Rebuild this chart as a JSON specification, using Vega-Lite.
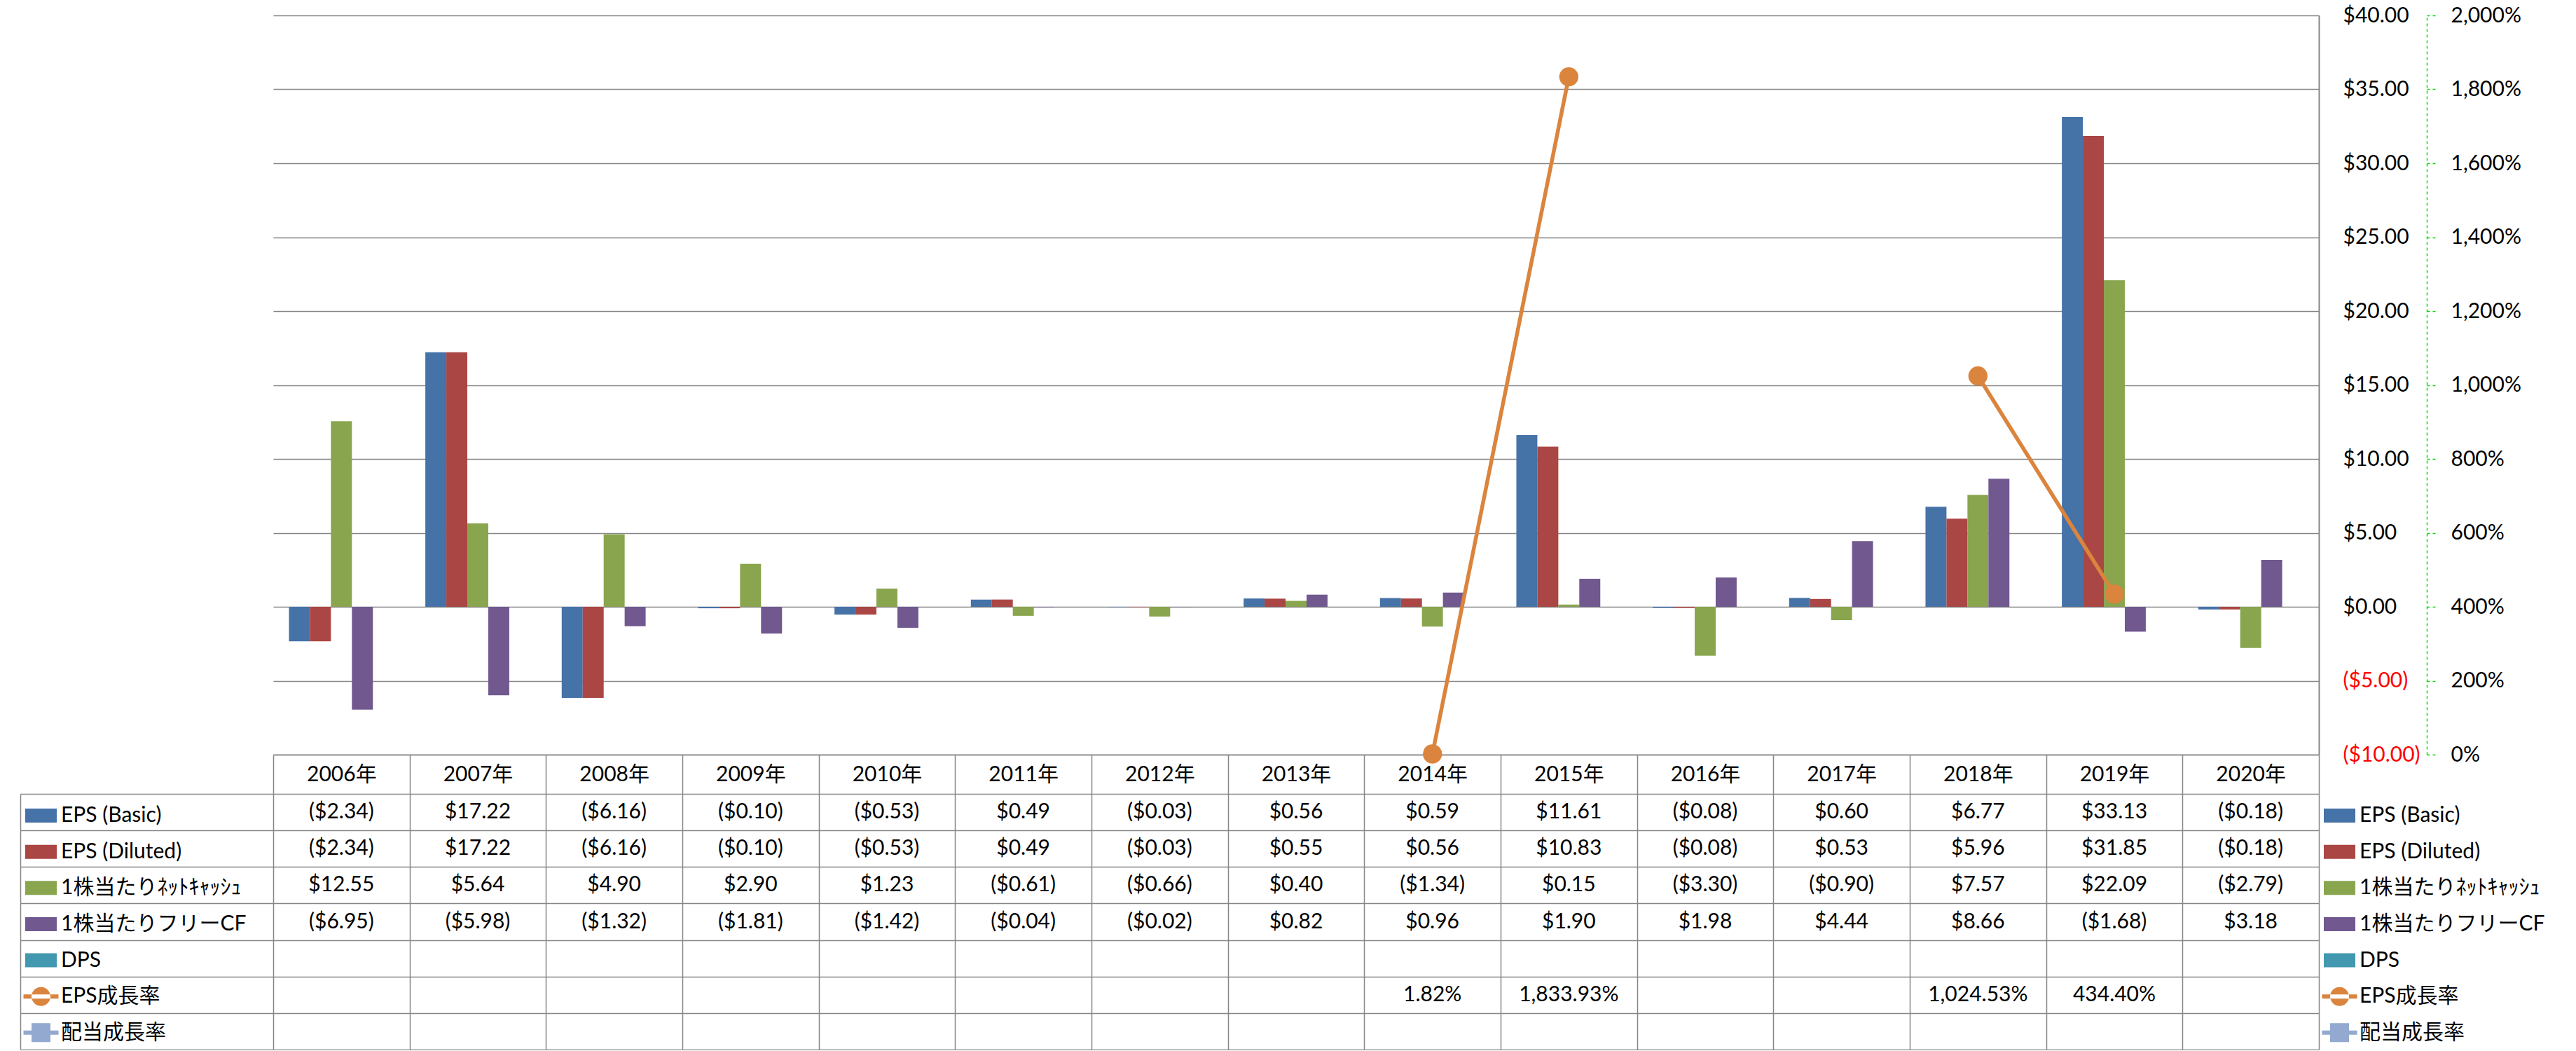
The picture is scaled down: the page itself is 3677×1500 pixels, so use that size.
{
  "$schema": "https://vega.github.io/schema/vega-lite/v6.json",
  "background": "white",
  "padding": {"left": 28, "top": 7, "right": 0, "bottom": 0},
  "bounds": "flush",
  "spacing": 56,
  "datasets": {
    "d": [
      {"year": "2006年", "series": "EPS (Basic)", "value": -2.34},
      {"year": "2007年", "series": "EPS (Basic)", "value": 17.22},
      {"year": "2008年", "series": "EPS (Basic)", "value": -6.16},
      {"year": "2009年", "series": "EPS (Basic)", "value": -0.10},
      {"year": "2010年", "series": "EPS (Basic)", "value": -0.53},
      {"year": "2011年", "series": "EPS (Basic)", "value": 0.49},
      {"year": "2012年", "series": "EPS (Basic)", "value": -0.03},
      {"year": "2013年", "series": "EPS (Basic)", "value": 0.56},
      {"year": "2014年", "series": "EPS (Basic)", "value": 0.59},
      {"year": "2015年", "series": "EPS (Basic)", "value": 11.61},
      {"year": "2016年", "series": "EPS (Basic)", "value": -0.08},
      {"year": "2017年", "series": "EPS (Basic)", "value": 0.60},
      {"year": "2018年", "series": "EPS (Basic)", "value": 6.77},
      {"year": "2019年", "series": "EPS (Basic)", "value": 33.13},
      {"year": "2020年", "series": "EPS (Basic)", "value": -0.18},
      {"year": "2006年", "series": "EPS (Diluted)", "value": -2.34},
      {"year": "2007年", "series": "EPS (Diluted)", "value": 17.22},
      {"year": "2008年", "series": "EPS (Diluted)", "value": -6.16},
      {"year": "2009年", "series": "EPS (Diluted)", "value": -0.10},
      {"year": "2010年", "series": "EPS (Diluted)", "value": -0.53},
      {"year": "2011年", "series": "EPS (Diluted)", "value": 0.49},
      {"year": "2012年", "series": "EPS (Diluted)", "value": -0.03},
      {"year": "2013年", "series": "EPS (Diluted)", "value": 0.55},
      {"year": "2014年", "series": "EPS (Diluted)", "value": 0.56},
      {"year": "2015年", "series": "EPS (Diluted)", "value": 10.83},
      {"year": "2016年", "series": "EPS (Diluted)", "value": -0.08},
      {"year": "2017年", "series": "EPS (Diluted)", "value": 0.53},
      {"year": "2018年", "series": "EPS (Diluted)", "value": 5.96},
      {"year": "2019年", "series": "EPS (Diluted)", "value": 31.85},
      {"year": "2020年", "series": "EPS (Diluted)", "value": -0.18},
      {"year": "2006年", "series": "1株当たりﾈｯﾄｷｬｯｼｭ", "value": 12.55},
      {"year": "2007年", "series": "1株当たりﾈｯﾄｷｬｯｼｭ", "value": 5.64},
      {"year": "2008年", "series": "1株当たりﾈｯﾄｷｬｯｼｭ", "value": 4.90},
      {"year": "2009年", "series": "1株当たりﾈｯﾄｷｬｯｼｭ", "value": 2.90},
      {"year": "2010年", "series": "1株当たりﾈｯﾄｷｬｯｼｭ", "value": 1.23},
      {"year": "2011年", "series": "1株当たりﾈｯﾄｷｬｯｼｭ", "value": -0.61},
      {"year": "2012年", "series": "1株当たりﾈｯﾄｷｬｯｼｭ", "value": -0.66},
      {"year": "2013年", "series": "1株当たりﾈｯﾄｷｬｯｼｭ", "value": 0.40},
      {"year": "2014年", "series": "1株当たりﾈｯﾄｷｬｯｼｭ", "value": -1.34},
      {"year": "2015年", "series": "1株当たりﾈｯﾄｷｬｯｼｭ", "value": 0.15},
      {"year": "2016年", "series": "1株当たりﾈｯﾄｷｬｯｼｭ", "value": -3.30},
      {"year": "2017年", "series": "1株当たりﾈｯﾄｷｬｯｼｭ", "value": -0.90},
      {"year": "2018年", "series": "1株当たりﾈｯﾄｷｬｯｼｭ", "value": 7.57},
      {"year": "2019年", "series": "1株当たりﾈｯﾄｷｬｯｼｭ", "value": 22.09},
      {"year": "2020年", "series": "1株当たりﾈｯﾄｷｬｯｼｭ", "value": -2.79},
      {"year": "2006年", "series": "1株当たりフリーCF", "value": -6.95},
      {"year": "2007年", "series": "1株当たりフリーCF", "value": -5.98},
      {"year": "2008年", "series": "1株当たりフリーCF", "value": -1.32},
      {"year": "2009年", "series": "1株当たりフリーCF", "value": -1.81},
      {"year": "2010年", "series": "1株当たりフリーCF", "value": -1.42},
      {"year": "2011年", "series": "1株当たりフリーCF", "value": -0.04},
      {"year": "2012年", "series": "1株当たりフリーCF", "value": -0.02},
      {"year": "2013年", "series": "1株当たりフリーCF", "value": 0.82},
      {"year": "2014年", "series": "1株当たりフリーCF", "value": 0.96},
      {"year": "2015年", "series": "1株当たりフリーCF", "value": 1.90},
      {"year": "2016年", "series": "1株当たりフリーCF", "value": 1.98},
      {"year": "2017年", "series": "1株当たりフリーCF", "value": 4.44},
      {"year": "2018年", "series": "1株当たりフリーCF", "value": 8.66},
      {"year": "2019年", "series": "1株当たりフリーCF", "value": -1.68},
      {"year": "2020年", "series": "1株当たりフリーCF", "value": 3.18},
      {"year": "2014年", "series": "EPS成長率", "value": 0.0182},
      {"year": "2015年", "series": "EPS成長率", "value": 18.3393},
      {"year": "2016年", "series": "EPS成長率", "value": null},
      {"year": "2017年", "series": "EPS成長率", "value": null},
      {"year": "2018年", "series": "EPS成長率", "value": 10.2453},
      {"year": "2019年", "series": "EPS成長率", "value": 4.344}
    ]
  },
  "vconcat": [
    {
      "width": 2920,
      "height": 1055,
      "data": {"name": "d"},
      "layer": [
        {
          "transform": [{"filter": {"field": "series", "oneOf": ["EPS (Basic)", "EPS (Diluted)", "1株当たりﾈｯﾄｷｬｯｼｭ", "1株当たりフリーCF"]}}],
          "mark": {"type": "bar"},
          "encoding": {
            "x": {
              "field": "year", "type": "nominal",
              "scale": {"domain": ["2006年","2007年","2008年","2009年","2010年","2011年","2012年","2013年","2014年","2015年","2016年","2017年","2018年","2019年","2020年"], "paddingInner": 0, "paddingOuter": 0},
              "axis": {"orient": "bottom", "title": null, "labelAngle": 0, "labelFontSize": 30, "labelBaseline": "middle", "labelPadding": -28, "ticks": true, "tickBand": "extent", "tickSize": 56, "tickColor": "#868686", "tickWidth": 1.5, "domain": true, "domainColor": "#868686", "domainWidth": 1.5, "grid": false}
            },
            "xOffset": {"field": "series", "type": "nominal", "scale": {"domain": ["EPS (Basic)", "EPS (Diluted)", "1株当たりﾈｯﾄｷｬｯｼｭ", "1株当たりフリーCF", "DPS"], "paddingInner": 0, "paddingOuter": 0.75}},
            "y": {
              "field": "value", "type": "quantitative",
              "scale": {"domain": [-10, 40], "nice": false, "zero": false},
              "axis": {"orient": "right", "title": null, "values": [-10,-5,0,5,10,15,20,25,30,35,40], "format": "($,.2f", "labelColor": {"expr": "datum.value < 0 ? '#FF0000' : '#000000'"}, "labelAlign": "left", "labelBaseline": "middle", "labelPadding": 34, "labelFlush": false, "labelFontSize": 30, "ticks": false, "domain": true, "domainColor": "#868686", "domainWidth": 2, "grid": true, "gridColor": "#868686", "gridWidth": 1.5}
            },
            "color": {
              "field": "series", "type": "nominal",
              "scale": {"domain": ["EPS (Basic)", "EPS (Diluted)", "1株当たりﾈｯﾄｷｬｯｼｭ", "1株当たりフリーCF", "DPS", "EPS成長率", "配当成長率"], "range": ["#4572A7", "#AA4643", "#89A54E", "#71588F", "#4198AF", "#DB843D", "#93A9CF"]},
              "legend": {
                "orient": "none", "legendX": 2924.5, "legendY": 1117, "title": null, "direction": "vertical",
                "symbolSize": 2500, "symbolType": "square", "symbolOpacity": 1, "symbolStrokeWidth": 0,
                "labelFontSize": 30, "labelColor": "#000000", "labelOffset": 3.5, "labelLimit": 600, "labelBaseline": "middle",
                "rowPadding": 11.64, "padding": 0, "offset": 0,
                "encode": {"symbols": {"update": {
                  "shape": {"signal": "datum.value === 'EPS成長率' ? 'M-1,-0.12H1V0.12H-1Z M-0.54,0A0.54,0.54 0 1,0 0.54,0A0.54,0.54 0 1,0 -0.54,0Z' : datum.value === '配当成長率' ? 'M-1,-0.12H1V0.12H-1Z M-0.54,-0.54H0.54V0.54H-0.54Z' : 'M-0.9,-0.4H0.9V0.4H-0.9Z'"},
                  "opacity": {"value": 1},
                  "strokeWidth": {"value": 0}
                }}}
              }
            }
          }
        },
        {
          "transform": [{"filter": "datum.series === 'EPS成長率'"}],
          "encoding": {
            "x": {"field": "year", "type": "nominal", "scale": {"domain": ["2006年","2007年","2008年","2009年","2010年","2011年","2012年","2013年","2014年","2015年","2016年","2017年","2018年","2019年","2020年"], "paddingInner": 0, "paddingOuter": 0}},
            "y": {
              "field": "value", "type": "quantitative",
              "scale": {"domain": [0, 20], "nice": false, "zero": false},
              "axis": {"orient": "right", "offset": 154, "title": null, "values": [0,2,4,6,8,10,12,14,16,18,20], "format": ",.0%", "labelAlign": "left", "labelBaseline": "middle", "labelPadding": 22, "labelFlush": false, "labelFontSize": 30, "labelColor": "#000000", "ticks": true, "tickSize": 12, "tickColor": "#00E000", "tickDash": [4, 4], "tickWidth": 1.5, "domain": true, "domainColor": "#00E000", "domainDash": [4, 4], "domainWidth": 1.5, "grid": false}
            }
          },
          "layer": [
            {"mark": {"type": "line", "color": "#DB843D", "strokeWidth": 5.5, "invalid": "break-paths-filter-domains"}},
            {"transform": [{"filter": "isValid(datum.value)"}], "mark": {"type": "point", "filled": true, "size": 750, "color": "#DB843D", "opacity": 1}}
          ]
        }
      ],
      "resolve": {"scale": {"y": "independent"}, "axis": {"y": "independent"}}
    },
    {
      "width": 2920,
      "height": 365,
      "data": {"name": "d"},
      "encoding": {
        "x": {
          "field": "year", "type": "nominal",
          "scale": {"domain": ["2006年","2007年","2008年","2009年","2010年","2011年","2012年","2013年","2014年","2015年","2016年","2017年","2018年","2019年","2020年"], "paddingInner": 0, "paddingOuter": 0},
          "axis": {"orient": "bottom", "title": null, "labels": false, "ticks": false, "domain": false, "grid": true, "tickBand": "extent", "gridColor": "#868686", "gridWidth": 1.5}
        },
        "y": {
          "field": "series", "type": "nominal",
          "scale": {"domain": ["EPS (Basic)", "EPS (Diluted)", "1株当たりﾈｯﾄｷｬｯｼｭ", "1株当たりフリーCF", "DPS", "EPS成長率", "配当成長率"], "paddingInner": 0, "paddingOuter": 0},
          "axis": {"orient": "left", "offset": 361, "title": null, "labels": false, "domain": true, "domainColor": "#868686", "domainWidth": 1.5, "ticks": true, "tickBand": "extent", "tickSize": -361, "tickColor": "#868686", "tickWidth": 1.5, "grid": true, "gridColor": "#868686", "gridWidth": 1.5}
        }
      },
      "layer": [
        {
          "transform": [{"filter": {"field": "series", "oneOf": ["EPS (Basic)", "EPS (Diluted)", "1株当たりﾈｯﾄｷｬｯｼｭ", "1株当たりフリーCF"]}}],
          "mark": {"type": "text", "fontSize": 30, "color": "#000000"},
          "encoding": {"text": {"field": "value", "type": "quantitative", "format": "($,.2f"}}
        },
        {
          "transform": [{"filter": "datum.series === 'EPS成長率' && isValid(datum.value)"}],
          "mark": {"type": "text", "fontSize": 30, "color": "#000000"},
          "encoding": {"text": {"field": "value", "type": "quantitative", "format": ",.2%"}}
        },
        {
          "transform": [{"filter": "datum.value > 1000"}],
          "mark": {"type": "square", "filled": true},
          "encoding": {
            "color": {
              "field": "series", "type": "nominal",
              "scale": {"domain": ["EPS (Basic)", "EPS (Diluted)", "1株当たりﾈｯﾄｷｬｯｼｭ", "1株当たりフリーCF", "DPS", "EPS成長率", "配当成長率"], "range": ["#4572A7", "#AA4643", "#89A54E", "#71588F", "#4198AF", "#DB843D", "#93A9CF"]},
              "legend": {
                "orient": "none", "legendX": -356.5, "legendY": 6, "title": null, "direction": "vertical",
                "symbolSize": 2500, "symbolType": "square", "symbolOpacity": 1, "symbolStrokeWidth": 0,
                "labelFontSize": 30, "labelColor": "#000000", "labelOffset": 3.5, "labelLimit": 600, "labelBaseline": "middle",
                "rowPadding": 11.64, "padding": 0, "offset": 0,
                "encode": {"symbols": {"update": {
                  "shape": {"signal": "datum.value === 'EPS成長率' ? 'M-1,-0.12H1V0.12H-1Z M-0.54,0A0.54,0.54 0 1,0 0.54,0A0.54,0.54 0 1,0 -0.54,0Z' : datum.value === '配当成長率' ? 'M-1,-0.12H1V0.12H-1Z M-0.54,-0.54H0.54V0.54H-0.54Z' : 'M-0.9,-0.4H0.9V0.4H-0.9Z'"},
                  "opacity": {"value": 1},
                  "strokeWidth": {"value": 0}
                }}}
              }
            }
          }
        }
      ]
    }
  ],
  "resolve": {"legend": {"color": "independent"}},
  "config": {
    "font": "Lato, 'Noto Sans CJK JP', sans-serif",
    "view": {"stroke": null},
    "axis": {"labelFont": "Lato, 'Noto Sans CJK JP', sans-serif", "labelFontSize": 30, "labelColor": "#000000"},
    "legend": {"labelFont": "Lato, 'Noto Sans CJK JP', sans-serif"},
    "text": {"font": "Lato, 'Noto Sans CJK JP', sans-serif"}
  }
}
